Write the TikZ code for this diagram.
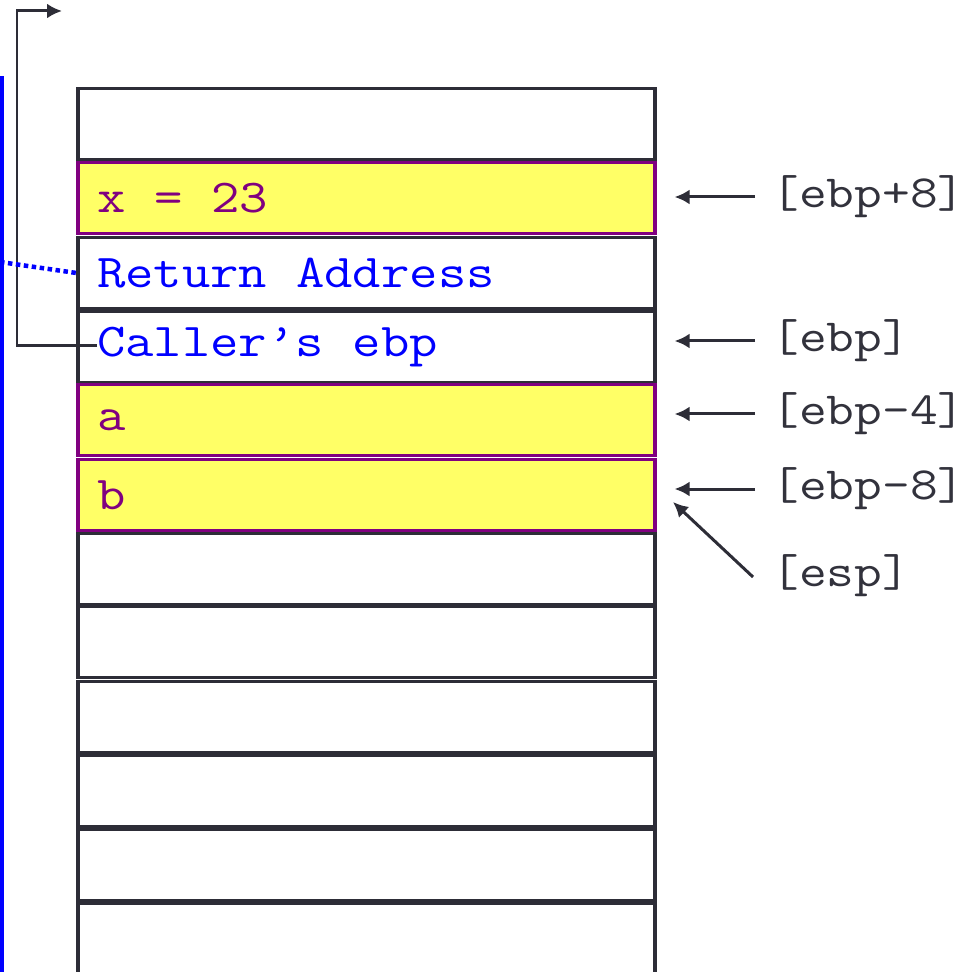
\documentclass[tikz,border=0pt]{standalone}
\usepackage{fontspec}
\setmonofont{Latin Modern Mono}[FakeStretch=1.17]
\usepackage{xcolor}
\usetikzlibrary{arrows.meta, positioning}
\definecolor{lineclr}{RGB}{45,45,55}
\definecolor{varfill}{RGB}{255,255,102}
\definecolor{varline}{RGB}{128,0,128}
\definecolor{ptrclr}{RGB}{0,0,255}
\definecolor{lblclr}{RGB}{50,50,60}
\newcommand{\celltext}{\ttfamily\fontsize{26.8pt}{30pt}\selectfont}
\newcommand{\lbltext}{\ttfamily\fontsize{26.2pt}{30pt}\selectfont}

\begin{document}
\begin{tikzpicture}[x=0.02cm, y=-0.02cm]
            \tikzset{edge/.style = {->,> = {Latex[length=0.3cm, width=0.3cm]}, line width=0.06cm, draw=lineclr}}
            % stretched mono face: keep the space as wide as a letter
            \tikzset{cell/.style = {draw=lineclr, line width=0.065cm, minimum width=11.54cm, minimum height=1.42cm,
                                    text width=10.78cm, inner xsep=0.38cm, align=left, font=\celltext, text=ptrclr,
                                    execute at begin node={\spaceskip=0.614em\xspaceskip=0.614em\relax}}}
            \tikzset{var/.style = {cell, fill=varfill, draw=varline, text=varline}}
            \tikzset{lbl/.style = {anchor=west, inner sep=0pt, font=\lbltext, text=lblclr}}
            \useasboundingbox (0,0) rectangle (979,972);
            % caller frame, mostly off to the left
            \draw[ptrclr, line width=0.08cm] (-60,78) rectangle (2,1060);
            % stack slots
            \node[cell] (c1) at  (366.5,124) {};
            \node[var] (c2) at  (366.5,198) {x = 23};
            \node[cell] (c3) at  (366.5,273) {Return Address};
            \node[cell] (c4) at  (366.5,347) {Caller’s ebp};
            \node[var] (c5) at  (366.5,420) {a};
            \node[var] (c6) at  (366.5,495) {b};
            \node[cell] (c7) at  (366.5,569) {};
            \node[cell] (c8) at  (366.5,642) {};
            \node[cell] (c9) at  (366.5,717) {};
            \node[cell] (c10) at  (366.5,791) {};
            \node[cell] (c11) at  (366.5,865) {};
            \node[cell] (c12) at  (366.5,939) {};
            % register labels
            \node[lbl] (ebp8) at  (771,197) {[ebp+8]};
            \node[lbl] (ebp) at  (771,341) {[ebp]};
            \node[lbl] (ebpm4) at  (771,414) {[ebp-4]};
            \node[lbl] (ebpm8) at  (771,489) {[ebp-8]};
            \node[lbl] (esp) at  (771,576) {[esp]};
            \coordinate (esptail) at  (753,577);
            \coordinate (esphead) at  (673,502);
            % saved ebp link
            \coordinate (savedfrom) at  (97,346);
            \coordinate (savedto) at  (62,11);
            \coordinate (retfrom) at  (0,262);
            %edges
            \draw[edge, shorten <=0.32cm, shorten >=0.36cm] (ebp8.west) to (ebp8.west -| c2.east);
            \draw[edge, shorten <=0.32cm, shorten >=0.36cm] (ebp.west) to (ebp.west -| c4.east);
            \draw[edge, shorten <=0.32cm, shorten >=0.36cm] (ebpm4.west) to (ebpm4.west -| c5.east);
            \draw[edge, shorten <=0.32cm, shorten >=0.36cm] (ebpm8.west) to (ebpm8.west -| c6.east);
            \draw[edge] (esptail) to (esphead);
            \draw[edge] (savedfrom) -- (17,346) -- (17,11) -- (savedto);
            \draw[ptrclr, dotted, line width=0.09cm] (retfrom) to (c3.west);
\end{tikzpicture}
\end{document}
